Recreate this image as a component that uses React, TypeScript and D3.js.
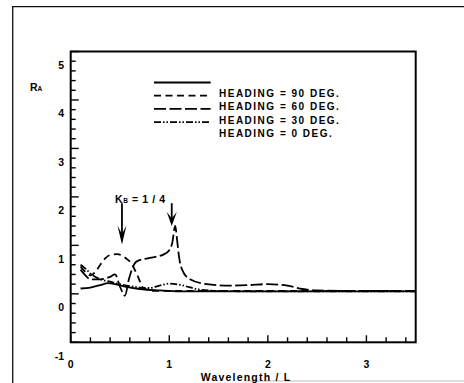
import * as d3 from "d3";

const W = 464;
const H = 383;
const FONT = "'Liberation Sans', Arial, sans-serif";

// frame in pixels, axes in data units
const FRAME = { left: 70.7, right: 415.7, top: 51.5, bottom: 342.3 };
const X_DOMAIN = [0, 3.5];
const Y_DOMAIN = [-1, 5];
const X_TICKS = [0, 1, 2, 3];
const Y_TICKS = [-1, 0, 1, 2, 3, 4, 5];

// heading 90 deg (solid)
const x90 = [0.1, 0.2, 0.3, 0.38, 0.45, 0.55, 0.7, 0.9, 1.1, 1.5, 2.0, 2.5, 3.0, 3.5];
const ra90 = [0.11, 0.13, 0.18, 0.22, 0.2, 0.15, 0.1, 0.07, 0.05, 0.05, 0.05, 0.05, 0.05, 0.05];

// heading 60 deg (short dash)
const x60 = [0.1, 0.15, 0.2, 0.25, 0.3, 0.35, 0.4, 0.47, 0.55, 0.63, 0.66, 0.69, 0.72, 0.76, 0.85, 1.0, 1.5, 2.0, 2.5, 3.0, 3.5];
const ra60 = [0.56, 0.45, 0.38, 0.45, 0.6, 0.73, 0.8, 0.82, 0.75, 0.58, 0.45, 0.32, 0.16, 0.09, 0.06, 0.06, 0.06, 0.06, 0.06, 0.06, 0.06];

// heading 30 deg (long dash)
const x30 = [0.1, 0.15, 0.2, 0.3, 0.4, 0.45, 0.5, 0.55, 0.59, 0.63, 0.67, 0.8, 0.94, 1.0, 1.03, 1.06, 1.08, 1.1, 1.13, 1.21, 1.38, 1.6, 1.8, 2.0, 2.2, 2.35, 2.5, 3.0, 3.5];
const ra30 = [0.5, 0.38, 0.3, 0.3, 0.35, 0.4, 0.15, -0.04, 0.3, 0.55, 0.67, 0.74, 0.81, 0.9, 1.05, 1.4, 1.1, 0.75, 0.5, 0.3, 0.2, 0.17, 0.18, 0.2, 0.17, 0.1, 0.07, 0.06, 0.06];

// heading 0 deg (dash-dot-dot)
const x0 = [0.1, 0.15, 0.2, 0.3, 0.4, 0.5, 0.6, 0.7, 0.8, 0.9, 1.0, 1.1, 1.2, 1.3, 1.5, 2.0, 3.5];
const ra0 = [0.6, 0.52, 0.42, 0.3, 0.25, 0.2, 0.16, 0.13, 0.12, 0.17, 0.21, 0.19, 0.14, 0.09, 0.06, 0.05, 0.05];

const SERIES = [
  { label: "HEADING = 90 DEG.", xs: x90, ys: ra90, dash: "none" },
  { label: "HEADING = 60 DEG.", xs: x60, ys: ra60, dash: "7,4.5" },
  { label: "HEADING = 30 DEG.", xs: x30, ys: ra30, dash: "12,3.5" },
  { label: "HEADING = 0 DEG.", xs: x0, ys: ra0, dash: "7,2,1.5,2,1.5,2" },
];

// arrows marking Kb = 1/4
const ARROW_X = [0.52, 1.025];
const ARROW_TIP = [1.02, 1.4];
const ARROW_TOP = 1.87;

export default function App() {
  const x = d3.scaleLinear().domain(X_DOMAIN).range([FRAME.left, FRAME.right]);
  const y = d3.scaleLinear().domain(Y_DOMAIN).range([FRAME.bottom, FRAME.top]);

  const line = d3
    .line<[number, number]>()
    .x((d) => x(d[0]))
    .y((d) => y(d[1]))
    .curve(d3.curveMonotoneX);

  const yMinor = d3.range(-1, 5.001, 0.2);
  const xMinor = d3.range(0, 3.501, 0.2);

  const legendX0 = 154;
  const legendX1 = 210.7;
  const legendY0 = 82.5;
  const legendStep = 13.2;

  return (
    <svg
      width={W}
      height={H}
      style={{ position: "absolute", left: 0, top: 0, background: "#fff" }}
      fontFamily={FONT}
      fontWeight="bold"
    >
      {/* outer scan border */}
      <path d={`M12.7,${H} V6.7 H${W}`} fill="none" stroke="#111" strokeWidth={1.3} />
      <line x1={245} x2={W} y1={381} y2={381} stroke="#bbb" strokeWidth={1} />

      {/* curves */}
      <g fill="none" stroke="#000" strokeWidth={1.8}>
        {SERIES.map((s, i) => (
          <path
            key={i}
            d={line(s.xs.map((v, j) => [v, s.ys[j]] as [number, number])) ?? ""}
            strokeDasharray={s.dash}
          />
        ))}
      </g>

      {/* frame */}
      <rect
        x={FRAME.left}
        y={FRAME.top}
        width={FRAME.right - FRAME.left}
        height={FRAME.bottom - FRAME.top}
        fill="none"
        stroke="#000"
        strokeWidth={2}
      />

      {/* ticks, inward */}
      <g stroke="#000" strokeWidth={1.4}>
        {yMinor.map((v, i) => {
          const major = Math.abs(v - Math.round(v)) < 1e-6;
          return (
            <line key={i} x1={FRAME.left} x2={FRAME.left + (major ? 8 : 5)} y1={y(v)} y2={y(v)} />
          );
        })}
        {xMinor.map((v, i) => {
          const major = Math.abs(v - Math.round(v)) < 1e-6;
          return (
            <line key={i} x1={x(v)} x2={x(v)} y1={FRAME.bottom} y2={FRAME.bottom - (major ? 7 : 5)} />
          );
        })}
      </g>

      {/* y tick labels (sit a little below their ticks in the original) */}
      {Y_TICKS.map((v) => (
        <text key={v} x={64} y={y(v) + 13.5} fontSize={10.5} textAnchor="end" dominantBaseline="central">
          {v}
        </text>
      ))}
      {X_TICKS.map((v) => (
        <text key={v} x={x(v)} y={364} fontSize={10.5} textAnchor="middle" dominantBaseline="central">
          {v}
        </text>
      ))}

      {/* axis titles */}
      <text x={30} y={87} fontSize={10.5} dominantBaseline="central">
        R<tspan fontSize={6.5} dy={1}>A</tspan>
      </text>
      <text x={246} y={377} fontSize={10.5} textAnchor="middle" dominantBaseline="central" letterSpacing={1.2}>
        Wavelength / L
      </text>

      {/* legend */}
      {SERIES.map((s, i) => (
        <g key={i}>
          <line
            x1={legendX0}
            x2={legendX1}
            y1={legendY0 + i * legendStep}
            y2={legendY0 + i * legendStep}
            stroke="#000"
            strokeWidth={1.8}
            strokeDasharray={s.dash}
          />
          <text
            x={219}
            y={legendY0 + (i + 1) * legendStep - 2}
            fontSize={10}
            letterSpacing={1.5}
            dominantBaseline="central"
          >
            {s.label}
          </text>
        </g>
      ))}

      {/* Kb = 1/4 annotation */}
      <text x={115} y={y(1.96)} fontSize={10.5} dominantBaseline="central" letterSpacing={0.6}>
        K<tspan fontSize={6.5} dy={1}>B</tspan>
        <tspan dy={-1}> = 1 / 4</tspan>
      </text>
      {ARROW_X.map((ax, i) => {
        const cx = x(ax);
        const tip = y(ARROW_TIP[i]);
        const headLen = i === 0 ? 19 : 14;
        const headW = i === 0 ? 4.5 : 5;
        return (
          <g key={i}>
            <line x1={cx} x2={cx} y1={y(ARROW_TOP)} y2={tip - 4} stroke="#000" strokeWidth={1.8} />
            <path
              d={`M${cx - headW},${tip - headLen} L${cx},${tip} L${cx + headW},${tip - headLen} L${cx},${tip - headLen * 0.55} Z`}
              fill="#000"
            />
          </g>
        );
      })}
    </svg>
  );
}
